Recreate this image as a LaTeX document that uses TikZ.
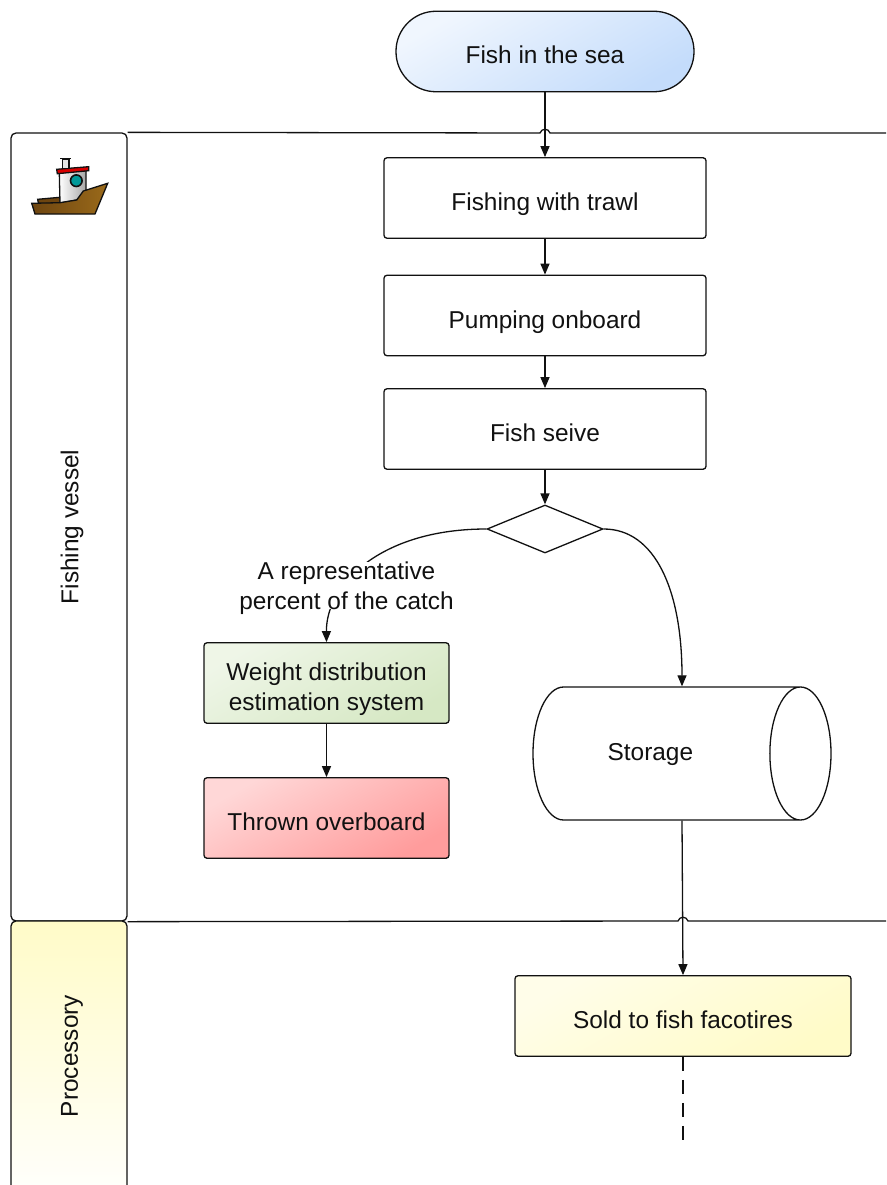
\documentclass[tikz,border=0pt]{standalone}
\usepackage{fontspec}
\setmainfont{Liberation Sans}
\usepackage{xcolor}
\usetikzlibrary{shapes.geometric, arrows.meta, positioning, calc}

\definecolor{seablue}{HTML}{C4DCFB}
\definecolor{leafgreen}{HTML}{D6E8C4}
\definecolor{alarmred}{HTML}{FF9C9C}
\definecolor{paleyellow}{HTML}{FFFBC8}
\definecolor{linegray}{HTML}{111111}
\definecolor{hulldark}{HTML}{6E4510}
\definecolor{hulllight}{HTML}{9A6A1A}

\tikzset{
  x=1pt, y=-1pt,
  every node/.style={font=\fontsize{24.4}{30}\selectfont, text=linegray},
  line/.style={draw=linegray, line width=1.3pt},
  flow/.style={line, -{Stealth[length=11pt,width=9pt,inset=0pt]}},
  stepbox/.style={line, rectangle, rounded corners=3pt, minimum height=80.5pt, inner sep=0pt,
    text height=25pt, text depth=0pt},
  lane/.style={line, rectangle, rounded corners=5pt, minimum width=116pt, inner sep=0pt},
  lanelabel/.style={rotate=90, inner sep=0pt}
}

\begin{document}
\begin{tikzpicture}
          \clip (0,0) rectangle (886,1185);

          \fill[white] (0,0) rectangle (886,1185);

          % swimlanes
          \node[lane, minimum height=788pt] (vessel) at (69,527) {};
          \node[lane, minimum height=290pt, top color=paleyellow, bottom color=white] (processory) at (69,1066) {};
          \node[lanelabel] (vessellabel) at (72,527) {Fishing vessel};
          \node[lanelabel] (processorylabel) at (72,1056) {Processory};

          \coordinate (A) at (886,133);
          \coordinate (B) at (886,921);

          % steps
          \node[stepbox, minimum width=298pt, rounded corners=40pt, left color=white!75!seablue, right color=seablue, shading angle=30] (sea) at (545,51.5) {Fish in the sea};
          \node[stepbox, minimum width=322pt, fill=white] (trawl) at (545,198) {Fishing with trawl};
          \node[stepbox, minimum width=322pt, fill=white] (pump) at (545,315.5) {Pumping onboard};
          \node[stepbox, minimum width=322pt, fill=white] (seive) at (545,429) {Fish seive};
          \node[line, diamond, minimum width=116pt, minimum height=48pt, inner sep=0pt, fill=white] (split) at (545,529) {};
          \node[stepbox, minimum width=245pt, left color=white!60!leafgreen, right color=leafgreen, shading angle=30, align=center, text height=55pt] (weight) at (326.5,683) {Weight distribution\\estimation system};
          \node[stepbox, minimum width=245pt, left color=white!60!alarmred, right color=alarmred, shading angle=30] (overboard) at (326.5,818) {Thrown overboard};
          \node[line, cylinder, anchor=shape center, shape aspect=3.05, minimum width=133pt, minimum height=298pt, inner sep=0pt, fill=white, text depth=3pt] (storage) at (682,753.5) {Storage\hspace*{32pt}};
          \node[stepbox, minimum width=336pt, left color=white!60!paleyellow, right color=paleyellow, shading angle=30] (sold) at (683,1016) {Sold to fish facotires};
          \coordinate (end) at (683,1143);

          % lane rules, with a hop over each crossing flow line
          \draw[line] (vessel.north east) -- (540,133) .. controls (541.5,128) and (548.5,128) .. (550,133) -- (A);
          \draw[line] (vessel.south east) -- (678,921) .. controls (679.5,916) and (686.5,916) .. (688,921) -- (B);

          \draw[flow] (sea.south) -- (trawl.north);
          \draw[flow] (trawl.south) -- (pump.north);
          \draw[flow] (pump.south) -- (seive.north);
          \draw[flow] (seive.south) -- (split.north);
          \draw[flow] (split.west) .. controls (380,529) and (326,585) .. (weight.north);
          \draw[flow] (split.east) .. controls (655,529) and (682,590) .. (storage.shape center |- storage.north);
          \draw[flow] (weight.south) -- (overboard.north);
          \draw[flow] (storage.shape center |- storage.south) -- (sold.north);
          \draw[draw=linegray, line width=1.15pt, dash pattern=on 14pt off 9pt] (sold.south) -- (end);

          \node[fill=white, align=center, inner sep=0pt, minimum width=215pt, text height=47pt, text depth=0pt] (percent) at (346.5,585.5) {A representative\\percent of the catch};

          % boat
          \draw[line, fill=hulldark] (37.7,199.3) -- (60,197.3) -- (60,203) -- (38.5,204) -- cycle;
          \draw[line, left color=white, right color=gray!70] (59.3,172.7) -- (86,170) -- (86,192) -- (76.7,200) -- (60,203) -- cycle;
          \draw[line, left color=hulldark, right color=hulllight] (31.7,203.3) -- (60,202.7) -- (76.7,200) -- (83.3,191) -- (107.7,183.3) -- (95,214) -- (35,214) -- cycle;
          \draw[line, fill=red!85!black] (56.7,169.3) -- (88.7,166.7) -- (88.7,170.7) -- (57.3,173.7) -- cycle;
          \draw[line, fill=gray!20] (62.3,159) rectangle (69,168.3);
          \draw[line] (60,158.3) -- (70.7,158.3);
          \draw[draw=linegray, line width=1.6pt, fill=teal!80!cyan] (76.3,180.7) circle (5.8);
        \end{tikzpicture}
\end{document}
